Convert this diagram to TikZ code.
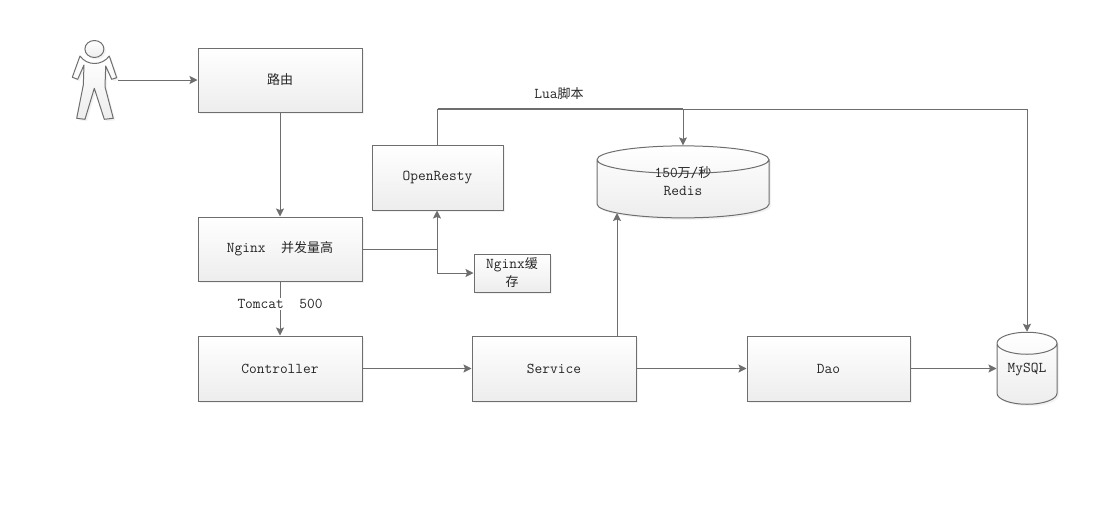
\documentclass[tikz,border=0pt]{standalone}
\usepackage{fontspec}
\newfontfamily\cjk{Noto Sans CJK SC}
\newcommand{\zh}[1]{{\cjk\fontsize{13}{18}\selectfont #1}}
\usetikzlibrary{arrows.meta,shapes.geometric,shadows}
\definecolor{lnggray}{HTML}{6E6E6E}
\definecolor{lngfade}{HTML}{EDEDED}

\begin{document}
\begin{tikzpicture}[
  x=1pt,y=-1pt,
  every node/.style={font=\ttfamily\fontsize{15}{18}\selectfont,text=black!85},
  lngfill/.style={draw=lnggray,line width=1pt,top color=white,bottom color=lngfade,
    drop shadow={opacity=.1,shadow xshift=2pt,shadow yshift=-2pt}},
  box/.style={lngfill,rectangle,inner sep=0pt,align=center},
  db/.style={lngfill,cylinder,shape border rotate=90,aspect=.55,inner sep=0pt},
  flow/.style={draw=lnggray,line width=1pt,-{Stealth[length=8pt,width=8pt,inset=1.5pt]}},
  wire/.style={draw=lnggray,line width=1pt}]
\useasboundingbox (0,0) rectangle (1108,525);
% person
\path[lngfill,line join=round] (80,56) -- (72.3,77.3) -- (77.7,79.3) -- (84,65) -- (83.3,85) -- (76.7,118.3)
  -- (85,119.3) -- (94.3,88.3) -- (104.3,119.3) -- (113.3,118.3) -- (105,86.7) -- (105.7,66)
  -- (111.7,79.3) -- (116.7,77.7) -- (109.3,56) .. controls (102,66) and (87,66) .. (80,56) -- cycle;
\path[lngfill] (94.4,49) ellipse [x radius=9.5,y radius=8.5];
\coordinate (hand) at (118,80);
% boxes
\node[box,minimum width=164pt,minimum height=64pt] (route) at (280,80) {\zh{路由}};
\node[box,minimum width=164pt,minimum height=64pt] (nginx) at (280,249) {Nginx\ \ \zh{并发量高}};
\node[box,minimum width=164pt,minimum height=65pt] (controller) at (280,368.5) {Controller};
\node[box,minimum width=164pt,minimum height=65pt] (service) at (554,368.5) {Service};
\node[box,minimum width=163pt,minimum height=65pt] (dao) at (828.5,368.5) {Dao};
\node[box,minimum width=131pt,minimum height=65pt] (openresty) at (437.5,177.5) {OpenResty};
\node[box,minimum width=76pt,minimum height=38pt] (cache) at (512,273) {Nginx\zh{缓}\\\zh{存}};
\node[db,minimum width=172pt,minimum height=72pt] (redis) at (683,189) {\hspace*{50pt}\rule{0pt}{30pt}};
\node[align=center] (redistext) at (683,181) {150\zh{万}/\zh{秒}\\Redis};
\node[db,minimum width=60pt,minimum height=72pt] (mysql) at (1027,374) {\hspace*{40pt}\rule{0pt}{12pt}};
\node (mysqltext) at (1027,370) {MySQL};
\node (lua) at (559,94) {Lua\zh{脚本}};
% connectors
\coordinate (split) at (437,249);
\coordinate (bend) at (683,109);
\coordinate (redisfoot) at (617,213);
\draw[flow] (hand) -- (route.west);
\draw[flow] (route.south) -- (nginx.north);
\draw[flow] (nginx.south) -- node[pos=.42,fill=white,inner sep=1pt] (tomcat) {Tomcat\ \ 500} (controller.north);
\draw[wire] (nginx.east) -- (split);
\draw[flow] (split) -- (split |- openresty.south);
\draw[flow] (split) |- (cache.west);
\draw[flow] (openresty.north) |- (bend) -- (redis.north);
\draw[wire,line width=1.8pt] (openresty.north |- bend) -- (bend);
\draw[flow] (bend) -| (mysql.north);
\draw[flow] (redisfoot |- service.north) -- (redisfoot);
\draw[flow] (controller.east) -- (service.west);
\draw[flow] (service.east) -- (dao.west);
\draw[flow] (dao.east) -- (dao.east -| mysql.west);
\end{tikzpicture}
\end{document}
